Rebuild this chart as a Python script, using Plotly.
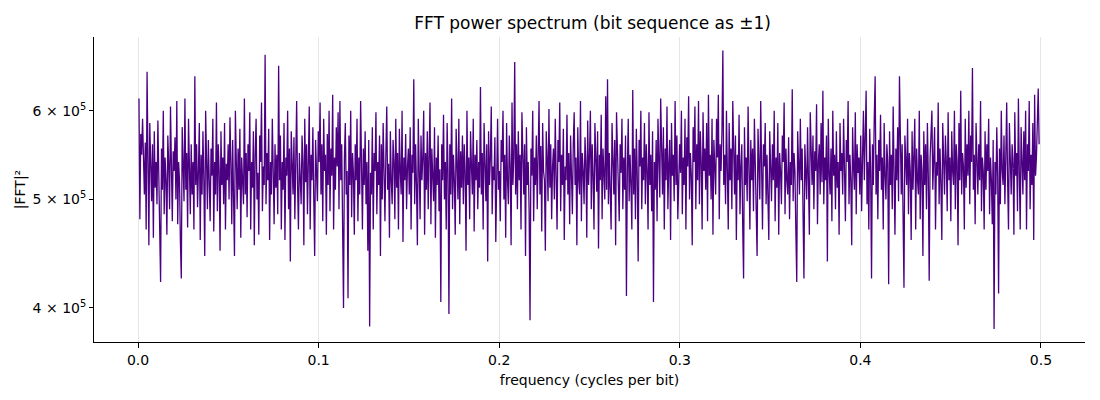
import numpy as np
import plotly.graph_objs as go

# power values in units of 1e3 left to right
power_k = [
    615, 480, 572, 548, 590, 530, 505, 562, 470, 650, 540, 455, 585, 520, 498, 560, 462, 575, 512, 540,
    495, 588, 530, 470, 422, 555, 510, 600, 485, 545, 520, 465, 570, 538, 490, 605, 515, 478, 552, 530,
    568, 500, 612, 475, 540, 520, 458, 425, 580, 535, 498, 615, 510, 550, 472, 590, 525, 485, 560, 505,
    540, 470, 644, 515, 560, 492, 530, 585, 460, 548, 505, 575, 520, 445, 600, 535, 490, 565, 510, 478,
    555, 525, 590, 468, 540, 505, 610, 488, 560, 530, 450, 575, 515, 545, 495, 585, 470, 538, 520, 560,
    500, 592, 540, 475, 565, 518, 445, 600, 530, 490, 555, 510, 578, 462, 545, 525, 495, 615, 505, 550,
    482, 560, 530, 598, 470, 540, 512, 575, 455, 548, 590, 500, 528, 465, 570, 540, 610, 488, 535, 515,
    673, 495, 550, 520, 578, 460, 540, 505, 590, 530, 475, 560, 512, 548, 485, 658, 520, 570, 470, 540,
    510, 585, 460, 545, 525, 600, 490, 555, 440, 575, 530, 505, 568, 480, 540, 612, 515, 470, 550, 528,
    495, 570, 540, 455, 590, 518, 560, 485, 535, 605, 470, 548, 520, 580, 500, 445, 565, 530, 498, 575,
    540, 610, 505, 560, 478, 590, 530, 548, 465, 572, 515, 600, 488, 555, 525, 620, 470, 545, 510, 580,
    535, 598, 490, 612, 520, 560, 475, 400, 545, 585, 505, 530, 408, 570, 515, 600, 482, 550, 528, 465,
    560, 520, 590, 478, 545, 505, 612, 530, 470, 555, 515, 575, 495, 540, 450, 565, 385, 528, 505, 580,
    470, 550, 530, 598, 485, 540, 515, 570, 445, 560, 500, 585, 525, 478, 548, 605, 510, 538, 462, 575,
    520, 495, 565, 540, 480, 590, 512, 550, 470, 578, 530, 505, 600, 458, 545, 520, 572, 490, 535, 555,
    505, 580, 470, 548, 528, 640, 495, 560, 515, 455, 590, 535, 480, 570, 520, 545, 600, 465, 550, 510,
    575, 490, 540, 610, 475, 555, 525, 498, 580, 462, 545, 515, 570, 488, 532, 405, 560, 520, 595, 500,
    540, 470, 585, 530, 395, 560, 505, 615, 490, 548, 520, 465, 578, 535, 500, 590, 475, 552, 512, 570,
    495, 560, 528, 450, 600, 515, 545, 480, 575, 535, 505, 590, 468, 548, 520, 565, 490, 540, 512, 630,
    505, 550, 470, 585, 530, 498, 560, 440, 575, 515, 545, 605, 485, 535, 520, 568, 458, 550, 590, 510,
    530, 478, 565, 540, 600, 500, 548, 462, 585, 520, 495, 570, 535, 455, 610, 515, 545, 663, 505, 560,
    490, 575, 520, 548, 470, 598, 530, 505, 560, 445, 580, 515, 540, 488, 390, 555, 525, 600, 478, 545,
    515, 570, 490, 540, 612, 505, 558, 468, 585, 530, 520, 450, 575, 545, 498, 602, 512, 560, 480, 535,
    555, 500, 590, 525, 470, 565, 540, 610, 488, 548, 515, 578, 460, 535, 520, 595, 505, 550, 475, 570,
    530, 485, 560, 598, 515, 545, 455, 580, 520, 505, 612, 478, 550, 530, 495, 568, 540, 462, 588, 515,
    545, 600, 490, 560, 525, 470, 585, 535, 508, 575, 452, 548, 520, 595, 480, 555, 530, 500, 618, 510,
    640, 495, 550, 520, 470, 585, 530, 505, 565, 455, 598, 540, 515, 478, 560, 528, 590, 490, 545, 510,
    570, 410, 530, 590, 498, 548, 515, 470, 626, 505, 555, 480, 578, 525, 440, 565, 535, 600, 490, 545,
    520, 585, 495, 560, 530, 470, 598, 515, 548, 488, 575, 405, 540, 510, 565, 478, 590, 530, 502, 615,
    545, 505, 580, 470, 555, 520, 605, 490, 538, 565, 460, 585, 525, 548, 498, 612, 515, 570, 480, 540,
    560, 528, 600, 485, 545, 515, 590, 470, 568, 535, 618, 500, 550, 525, 455, 580, 540, 605, 490, 560,
    520, 612, 495, 575, 540, 470, 598, 530, 555, 510, 585, 478, 620, 525, 548, 500, 590, 465, 565, 535,
    505, 590, 545, 620, 480, 560, 530, 575, 679, 515, 548, 495, 600, 530, 470, 585, 520, 555, 490, 612,
    540, 505, 570, 460, 548, 520, 595, 485, 535, 560, 475, 425, 580, 515, 545, 498, 605, 530, 470, 565,
    520, 555, 488, 590, 530, 510, 445, 578, 540, 500, 612, 525, 470, 560, 535, 585, 495, 548, 515, 460,
    575, 530, 498, 560, 520, 600, 478, 545, 512, 585, 465, 550, 530, 495, 570, 540, 610, 485, 555, 520,
    505, 568, 480, 540, 515, 627, 498, 550, 530, 470, 422, 575, 540, 505, 590, 520, 555, 485, 425, 560,
    535, 500, 580, 520, 465, 598, 545, 515, 570, 490, 552, 530, 608, 475, 540, 560, 505, 585, 518, 625,
    495, 545, 520, 570, 440, 590, 530, 505, 555, 478, 600, 525, 548, 490, 575, 512, 540, 465, 585, 530,
    550, 505, 590, 525, 478, 565, 540, 612, 495, 548, 520, 455, 580, 535, 510, 598, 485, 560, 528, 545,
    505, 570, 488, 545, 600, 520, 555, 625, 495, 540, 470, 578, 530, 425, 560, 515, 590, 644, 505, 548,
    480, 565, 530, 595, 510, 545, 470, 585, 525, 500, 560, 540, 420, 575, 515, 548, 490, 605, 530, 465,
    555, 520, 580, 498, 644, 535, 505, 560, 478, 417, 570, 545, 515, 590, 485, 550, 530, 460, 575, 510,
    540, 590, 470, 555, 520, 505, 600, 480, 548, 530, 445, 575, 515, 560, 490, 585, 525, 423, 545, 565,
    600, 510, 548, 580, 470, 540, 525, 610, 495, 555, 515, 460, 585, 530, 505, 570, 540, 488, 598, 520,
    545, 478, 575, 530, 515, 600, 490, 560, 540, 455, 585, 520, 625, 505, 550, 535, 470, 590, 512, 560,
    525, 600, 495, 570, 540, 655, 510, 548, 475, 585, 530, 505, 560, 520, 612, 488, 545, 530, 470, 575,
    510, 560, 530, 590, 485, 545, 520, 475, 565, 383, 540, 505, 580, 525, 412, 555, 495, 600, 530, 515,
    570, 495, 545, 610, 520, 470, 585, 535, 505, 560, 540, 465, 598, 525, 550, 488, 615, 530, 470, 580,
    540, 505, 575, 520, 600, 470, 560, 530, 612, 490, 548, 515, 585, 460, 620, 525, 545, 598, 628, 560,
]

freq_step = 0.000499  # cycles per bit between bins
x_ticks = [0.0, 0.1, 0.2, 0.3, 0.4, 0.5]
y_ticks = [4e5, 5e5, 6e5]
y_tick_text = ["4 × 10<sup>5</sup>", "5 × 10<sup>5</sup>", "6 × 10<sup>5</sup>"]

power = np.array(power_k) * 1e3
freq = np.arange(1, len(power) + 1) * freq_step

fig = go.Figure()
fig.add_trace(go.Scatter(
    x=freq, y=power, mode='lines',
    line=dict(color='#4B0082', width=1.3),
    showlegend=False,
))

# the page puts the plot 8px in from the top-left, so size/margins make up for it
fig.update_layout(
    width=1092, height=392,
    margin=dict(l=86, r=15, t=29, b=58),
    paper_bgcolor='white', plot_bgcolor='white',
    font=dict(family='DejaVu Sans', size=14, color='black'),
    title=dict(text='FFT power spectrum (bit sequence as ±1)',
               x=0.5353, xanchor='center', y=0.962, yanchor='middle',
               font=dict(size=17), automargin=False),
)

fig.update_xaxes(
    range=[-0.0244, 0.5244],
    tickvals=x_ticks, ticktext=['%.1f' % t for t in x_ticks],
    tickfont=dict(size=14),
    showgrid=True, gridcolor='#e6e6e6', gridwidth=1,
    showline=True, linecolor='black', linewidth=1,
    ticks='outside', ticklen=5, tickcolor='black',
    zeroline=False, automargin=False,
    title=dict(text='frequency (cycles per bit)', standoff=8, font=dict(size=14)),
)
fig.update_yaxes(
    type='log',
    range=[np.log10(3.73e5), np.log10(6.98e5)],
    tickvals=y_ticks, ticktext=y_tick_text,
    tickfont=dict(size=14),
    showgrid=False,
    showline=True, linecolor='black', linewidth=1,
    ticks='outside', ticklen=4, tickcolor='black',
    zeroline=False, automargin=False,
    title=dict(text='|FFT|²', standoff=3, font=dict(size=14)),
)

fig.write_html("out.html")
